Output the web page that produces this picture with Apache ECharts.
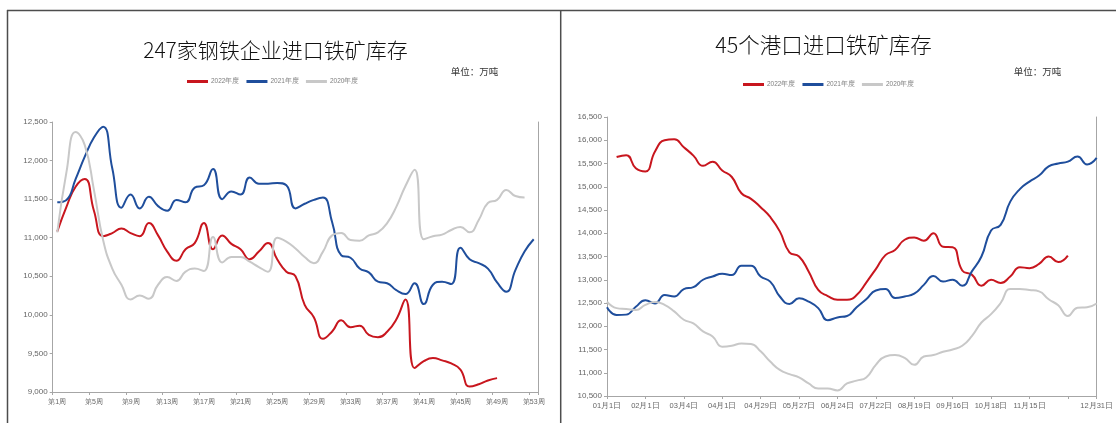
<!DOCTYPE html>
<html>
<head>
<meta charset="utf-8">
<script src="https://cdn.jsdelivr.net/npm/echarts@6/dist/echarts.min.js"></script>
<style>
html,body{margin:0;padding:0;background:#fff;}
#c{width:1116px;height:423px;}
</style>
</head>
<body>
<div id="c"></div>
<script>
// ---------- Data ----------
const steelTitle = '247家钢铁企业进口铁矿库存';
const portTitle = '45个港口进口铁矿库存';
const unitText = '单位：万吨';
const seriesNames = ['2022年度', '2021年度', '2020年度'];

const steelWeeks = Array.from({length: 53}, (_, i) => '第' + (i + 1) + '周');
const steel2022 = [11080, 11400, 11660, 11760, 11350, 11020, 11060, 11120, 11060, 11020,
  11190, 11030, 10820, 10700, 10850, 10930, 11190, 10850, 11030, 10920,
  10850, 10720, 10820, 10930, 10720, 10560, 10500, 10130, 9970, 9690,
  9785, 9930, 9840, 9860, 9740, 9710, 9780, 9940, 10200, 9310,
  9400, 9440, 9410, 9370, 9290, 9070, 9100, 9150, 9180];
const steel2021 = [11460, 11490, 11760, 12050, 12300, 12440, 11900, 11390, 11560, 11380,
  11530, 11410, 11350, 11490, 11460, 11650, 11680, 11890, 11500, 11600,
  11560, 11780, 11700, 11700, 11710, 11680, 11380, 11440, 11490, 11520,
  11200, 10770, 10740, 10600, 10550, 10430, 10410, 10320, 10270, 10410,
  10140, 10390, 10430, 10400, 10870, 10720, 10670, 10600, 10420, 10300,
  10580, 10820, 10980];
const steel2020 = [11070, 11850, 12370, 12200, 11620, 10970, 10600, 10390, 10200, 10250,
  10210, 10390, 10490, 10440, 10560, 10600, 10570, 11010, 10680, 10750,
  10750, 10690, 10620, 10560, 11000, 10950, 10860, 10750, 10670, 10820,
  11030, 11060, 10970, 10960, 11030, 11070, 11190, 11400, 11670, 11880,
  10980, 11020, 11040, 11100, 11140, 11070, 11230, 11450, 11490, 11620,
  11540, 11520];

const portDates = ['01月1日','01月8日','01月15日','01月22日','02月1日','02月11日','02月18日','02月25日',
  '03月4日','03月11日','03月18日','03月25日','04月1日','04月8日','04月15日','04月22日',
  '04月29日','05月6日','05月13日','05月20日','05月27日','06月3日','06月10日','06月17日',
  '06月24日','07月1日','07月8日','07月15日','07月22日','07月29日','08月5日','08月12日',
  '08月19日','08月26日','09月2日','09月9日','09月16日','09月23日','09月30日','10月11日',
  '10月18日','10月25日','11月1日','11月8日','11月15日','11月22日','11月29日','12月6日',
  '12月13日','12月20日','12月27日','12月31日'];
const port2022 = [null, 15640, 15680, 15400, 15330, 15760, 16000, 16020, 15850, 15670,
  15450, 15540, 15350, 15210, 14860, 14740, 14560, 14350, 14040, 13590,
  13500, 13180, 12780, 12650, 12570, 12570, 12670, 12940, 13230, 13530,
  13640, 13860, 13910, 13840, 14000, 13710, 13700, 13200, 13110, 12870,
  13000, 12930, 13070, 13270, 13250, 13340, 13500, 13380, 13520];
const port2021 = [12410, 12240, 12250, 12420, 12560, 12490, 12670, 12640, 12800, 12840,
  13000, 13070, 13130, 13100, 13300, 13300, 13070, 12960, 12640, 12480,
  12600, 12530, 12390, 12130, 12190, 12220, 12410, 12580, 12770, 12800,
  12610, 12640, 12700, 12890, 13080, 12960, 13000, 12870, 13180, 13500,
  14060, 14180, 14680, 14950, 15110, 15240, 15440, 15500, 15540, 15650,
  15480, 15620];
const port2020 = [12530, 12390, 12370, 12350, 12460, 12520, 12460, 12320, 12140, 12060,
  11890, 11780, 11560, 11580, 11630, 11620, 11460, 11240, 11060, 10970,
  10900, 10770, 10660, 10660, 10620, 10770, 10830, 10900, 11170, 11350,
  11380, 11320, 11170, 11350, 11380, 11450, 11500, 11580, 11790, 12080,
  12260, 12500, 12800, 12800, 12780, 12750, 12580, 12450, 12220, 12400,
  12410, 12490];

// ---------- Style ----------
const colors = ['#C8161E', '#1F4E9C', '#C8C8C8'];
const axisGray = '#A6A6A6';
const labelGray = '#666666';
const fmt = v => v.toLocaleString('en-US');

function mkSeries(name, data, color, xi, yi) {
  return {
    name, type: 'line', data, xAxisIndex: xi, yAxisIndex: yi,
    smooth: 0.5, showSymbol: false, symbol: 'none', connectNulls: false,
    lineStyle: {color, width: 2}, itemStyle: {color},
    emphasis: {disabled: true}, animation: false
  };
}

function yAx(grid, min, max) {
  return {
    type: 'value', gridIndex: grid, min, max, interval: 500,
    axisLine: {show: true, lineStyle: {color: axisGray, width: 1}},
    axisTick: {show: true, length: 3, lineStyle: {color: axisGray}},
    axisLabel: {color: labelGray, fontSize: 8, margin: 5, formatter: fmt, fontFamily: 'Liberation Sans'},
    splitLine: {show: false}
  };
}
function yRight(grid) {
  return {
    type: 'value', gridIndex: grid, position: 'right',
    axisLine: {show: true, lineStyle: {color: axisGray, width: 1}},
    axisTick: {show: false}, axisLabel: {show: false}, splitLine: {show: false}
  };
}

const chart = echarts.init(document.getElementById('c'), null, {renderer: 'canvas'});
const legendCommon = {
  icon: 'rect', itemWidth: 21, itemHeight: 3, itemGap: 7, padding: 0,
  textStyle: {color: '#7F7F7F', fontSize: 6.5, padding: [0, 0, 0, -2]},
  selectedMode: false, data: seriesNames
};

chart.setOption({
  backgroundColor: '#fff',
  animation: false,
  grid: [
    {left: 52.7, right: 1116 - 538.3, top: 122, bottom: 423 - 392},
    {left: 607, right: 1116 - 1097.5, top: 117, bottom: 423 - 396}
  ],
  legend: [
    Object.assign({}, legendCommon, {left: 187, top: 78}),
    Object.assign({}, legendCommon, {left: 743, top: 81})
  ],
  xAxis: [
    {
      type: 'category', gridIndex: 0, data: steelWeeks, boundaryGap: true,
      axisLine: {lineStyle: {color: axisGray}},
      axisTick: {show: true, interval: 3, length: 3, lineStyle: {color: axisGray}},
      axisLabel: {interval: 3, color: labelGray, fontSize: 7, margin: 7}
    },
    {
      type: 'category', gridIndex: 1, data: portDates, boundaryGap: false,
      axisLine: {lineStyle: {color: axisGray}},
      axisTick: {show: true, length: 3, lineStyle: {color: axisGray},
        interval: (i) => i % 4 === 0 || i === portDates.length - 1},
      axisLabel: {color: labelGray, fontSize: 7.5, margin: 6, showMaxLabel: true,
        interval: (i) => (i % 4 === 0 && i < 48) || i === portDates.length - 1}
    }
  ],
  yAxis: [yAx(0, 9000, 12500), yRight(0), yAx(1, 10500, 16500), yRight(1)],
  series: [
    mkSeries(seriesNames[0], steel2022, colors[0], 0, 0),
    mkSeries(seriesNames[1], steel2021, colors[1], 0, 0),
    mkSeries(seriesNames[2], steel2020, colors[2], 0, 0),
    mkSeries(seriesNames[0], port2022, colors[0], 1, 2),
    mkSeries(seriesNames[1], port2021, colors[1], 1, 2),
    mkSeries(seriesNames[2], port2020, colors[2], 1, 2)
  ],
  graphic: [
    {type: 'line', shape: {x1: 7, y1: 10.5, x2: 1116, y2: 10.5}, style: {stroke: '#4D4D4D', lineWidth: 1.5}, silent: true},
    {type: 'line', shape: {x1: 7.5, y1: 10, x2: 7.5, y2: 423}, style: {stroke: '#4D4D4D', lineWidth: 1.5}, silent: true},
    {type: 'line', shape: {x1: 560.7, y1: 10, x2: 560.7, y2: 423}, style: {stroke: '#4D4D4D', lineWidth: 1.5}, silent: true},
    {type: 'text', x: 275.5, y: 50, silent: true,
      style: {text: steelTitle, fontSize: 21, fill: '#111', align: 'center', verticalAlign: 'middle', fontFamily: 'Noto Sans CJK SC', fontWeight: 300}},
    {type: 'text', x: 823.5, y: 45, silent: true,
      style: {text: portTitle, fontSize: 21.5, fill: '#111', align: 'center', verticalAlign: 'middle', fontFamily: 'Noto Sans CJK SC', fontWeight: 300}},
    {type: 'text', x: 474.5, y: 71.5, silent: true,
      style: {text: unitText, fontSize: 9.5, fill: '#333', align: 'center', verticalAlign: 'middle', fontFamily: 'Noto Sans CJK SC'}},
    {type: 'text', x: 1037.5, y: 71.5, silent: true,
      style: {text: unitText, fontSize: 9.5, fill: '#333', align: 'center', verticalAlign: 'middle', fontFamily: 'Noto Sans CJK SC'}}
  ]
});
</script>
</body>
</html>
